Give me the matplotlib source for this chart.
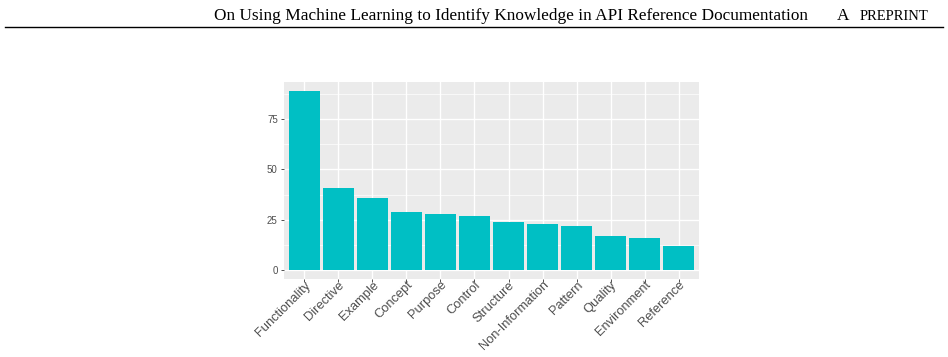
import matplotlib
matplotlib.use("Agg")
import matplotlib.pyplot as plt
import numpy as np

categories = ["Functionality", "Directive", "Example", "Concept", "Purpose", "Control",
              "Structure", "Non-Information", "Pattern", "Quality", "Environment", "Reference"]
counts = [89, 41, 36, 29, 28, 27, 24, 23, 22, 17, 16, 12]
yticks = [0, 25, 50, 75]

W, H = 948, 357
fig = plt.figure(figsize=(W/100, H/100), dpi=100)

# page header
fig.text(808/W, 1 - 20/H, "On Using Machine Learning to Identify Knowledge in API Reference Documentation",
         family="Liberation Serif", fontsize=12.4, ha="right", va="baseline")
fig.text(837/W, 1 - 20/H, "A", family="Liberation Serif", fontsize=12.4, ha="left", va="baseline")
fig.text(928/W, 1 - 20/H, "PREPRINT", family="Liberation Serif", fontsize=10.5, ha="right", va="baseline")
fig.add_artist(plt.Line2D([5/W, 943/W], [1 - 27/H, 1 - 27/H], color="black", lw=1.0))

ax = fig.add_axes([284/W, 1 - 279/H, (699 - 284)/W, (279 - 82)/H])
ax.set_facecolor("#EBEBEB")
x = np.arange(1, len(categories) + 1)
ax.bar(x, counts, width=0.9, color="#00BFC4", zorder=3)

ymax = max(counts)
ax.set_ylim(-0.05*ymax, ymax*1.05)
ax.set_xlim(0.4, len(categories) + 0.6)
ax.set_yticks(yticks)
ax.set_yticks([12.5, 37.5, 62.5, 87.5], minor=True)
ax.set_xticks(x)
ax.set_xticklabels(categories, rotation=45, ha="right", rotation_mode="anchor",
                   family="Liberation Sans", fontsize=9.3, color="#4D4D4D")
for lab in ax.get_yticklabels():
    lab.set_family("Liberation Sans")
    lab.set_fontsize(7)
    lab.set_color("#4D4D4D")

ax.grid(which="major", color="white", lw=1.0, zorder=1)
ax.grid(which="minor", axis="y", color="white", lw=0.5, zorder=1)
ax.tick_params(which="major", length=2.5, width=0.6, color="#333333", pad=2)
ax.tick_params(axis="x", which="major", pad=-2.5)
ax.tick_params(which="minor", length=0)
for s in ax.spines.values():
    s.set_visible(False)

plt.savefig("out.png", dpi=100)
